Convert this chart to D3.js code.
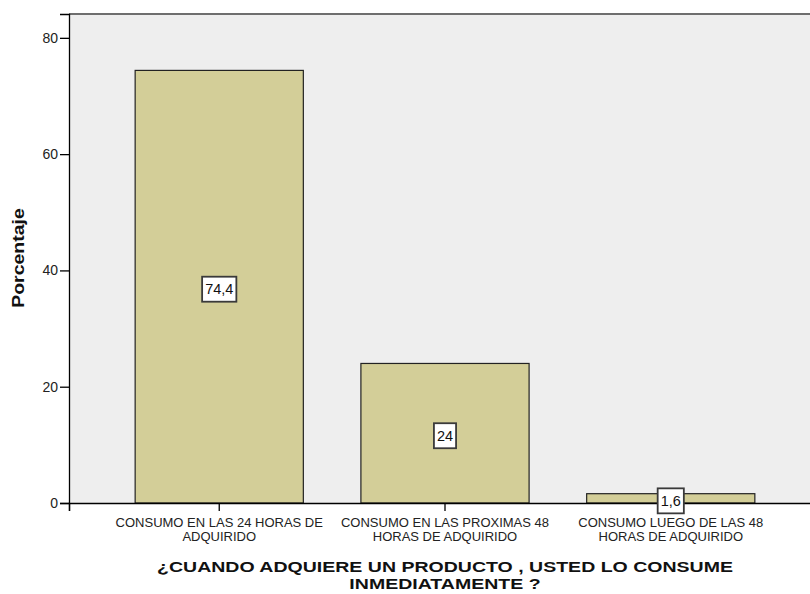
<!DOCTYPE html>
<html>
<head>
<meta charset="utf-8">
<script src="https://cdn.jsdelivr.net/npm/d3@7"></script>
<style>
  body { margin: 0; background: #ffffff; }
  svg { display: block; font-family: Arial, "Liberation Sans", sans-serif; }
</style>
</head>
<body>
<svg id="chart" width="810" height="594"></svg>
<script>
// Frequency table: share of respondents per consumption timing
const categories = [
  ["CONSUMO EN LAS 24 HORAS DE", "ADQUIRIDO"],
  ["CONSUMO EN LAS PROXIMAS 48", "HORAS DE ADQUIRIDO"],
  ["CONSUMO LUEGO DE LAS 48", "HORAS DE ADQUIRIDO"]
];
const percentages = [74.4, 24, 1.6];
const valueLabels = ["74,4", "24", "1,6"];
const yTicks = [0, 20, 40, 60, 80];
const yTitle = "Porcentaje";
const xTitle = ["¿CUANDO ADQUIERE UN PRODUCTO , USTED LO CONSUME", "INMEDIATAMENTE ?"];

const FONT = "Arial, 'Liberation Sans', sans-serif";
const svg = d3.select("#chart");
const plot = { left: 69, top: 14, right: 821, bottom: 503 };

const keys = categories.map((c, i) => i);
const x = d3.scaleBand()
  .domain(keys)
  .range([plot.left, plot.right])
  .paddingInner(0.255)
  .paddingOuter(0.293);

const y = d3.scaleLinear()
  .domain([0, 84.1])
  .range([plot.bottom, plot.top]);

// plot background
svg.append("rect")
  .attr("x", plot.left).attr("y", plot.top)
  .attr("width", plot.right - plot.left).attr("height", plot.bottom - plot.top)
  .attr("fill", "#eeeeee");

// top frame line
svg.append("line")
  .attr("x1", plot.left).attr("x2", plot.right)
  .attr("y1", plot.top).attr("y2", plot.top)
  .attr("stroke", "#6e6e6e").attr("stroke-width", 2);

// bars
svg.append("g").selectAll("rect")
  .data(percentages)
  .join("rect")
  .attr("x", (d, i) => x(i))
  .attr("y", d => y(d))
  .attr("width", x.bandwidth())
  .attr("height", d => y(0) - y(d))
  .attr("fill", "#d3ce98")
  .attr("stroke", "#222222")
  .attr("stroke-width", 1.2);

// y axis
const yAxis = svg.append("g")
  .attr("transform", `translate(${plot.left},0)`)
  .call(d3.axisLeft(y).tickValues(yTicks).tickSize(9).tickPadding(2).tickFormat(d3.format("d")));
yAxis.select(".domain").attr("stroke", "#000").attr("stroke-width", 1.3);
yAxis.selectAll(".tick line").attr("stroke", "#000").attr("stroke-width", 1.3);
yAxis.selectAll("text").attr("font-size", 14).attr("fill", "#222").attr("font-family", FONT);

// x axis with two-line category labels
const xAxis = svg.append("g")
  .attr("transform", `translate(0,${plot.bottom})`)
  .call(d3.axisBottom(x).tickSize(8).tickFormat(""));
xAxis.select(".domain").attr("stroke", "#000").attr("stroke-width", 1.6);
xAxis.selectAll(".tick line").attr("stroke", "#000").attr("stroke-width", 1.3);
xAxis.selectAll(".tick").each(function(d) {
  const t = d3.select(this).append("text")
    .attr("text-anchor", "middle")
    .attr("fill", "#222")
    .attr("font-size", 13)
    .attr("font-family", FONT);
  categories[d].forEach((line, j) => {
    t.append("tspan").attr("x", 0).attr("y", 24 + j * 14).text(line);
  });
});

// value labels in boxes at mid-height of each bar
const lab = svg.append("g").selectAll("g")
  .data(percentages)
  .join("g")
  .attr("transform", (d, i) => `translate(${x(i) + x.bandwidth() / 2},${y(d / 2) + 2.5})`);
lab.each(function(d, i) {
  const g = d3.select(this);
  const txt = g.append("text")
    .attr("text-anchor", "middle")
    .attr("dy", "0.36em")
    .attr("font-size", 14.5)
    .attr("fill", "#111")
    .attr("font-family", FONT)
    .text(valueLabels[i]);
  const bb = txt.node().getBBox();
  g.insert("rect", "text")
    .attr("x", bb.x - 3).attr("y", -12.5)
    .attr("width", bb.width + 6).attr("height", 25)
    .attr("fill", "#ffffff")
    .attr("stroke", "#3a3a3a")
    .attr("stroke-width", 1.8);
});

// axis titles (bold, horizontally widened)
svg.append("text")
  .attr("transform", `translate(24,258) rotate(-90) scale(1.22,1)`)
  .attr("text-anchor", "middle")
  .attr("font-size", 16)
  .attr("font-weight", "bold")
  .attr("fill", "#111")
  .attr("font-family", FONT)
  .text(yTitle);

const xt = svg.append("text")
  .attr("transform", "translate(445,0) scale(1.26,1)")
  .attr("text-anchor", "middle")
  .attr("font-size", 15.5)
  .attr("font-weight", "bold")
  .attr("fill", "#111")
  .attr("font-family", FONT);
xTitle.forEach((line, j) => {
  xt.append("tspan").attr("x", 0).attr("y", 572 + j * 17.5).text(line);
});
</script>
</body>
</html>
